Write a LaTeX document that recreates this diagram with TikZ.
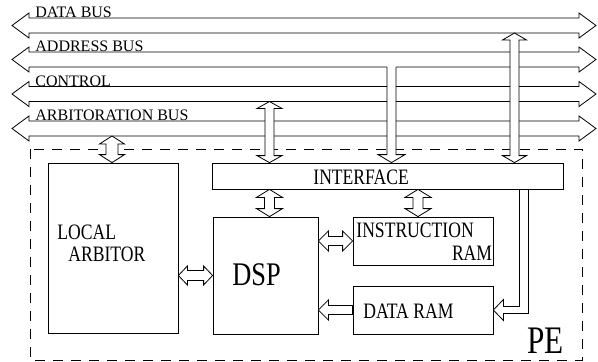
\documentclass[tikz,border=0pt]{standalone}
\usepackage{fontspec}
\setmainfont{Liberation Serif}
\newfontfamily\narrowfont{Liberation Serif}[FakeStretch=0.8]
\usetikzlibrary{calc}

% hollow block arrows: #1,#2 tips, #3 shaft half width, #4 head half width, #5 head length
\newcommand{\vdarr}[5]{\draw[hollow] let \p1=(#1), \p2=(#2) in
  (\x1,\y1) -- (\x1+#4,\y1-#5) -- (\x1+#3,\y1-#5) -- (\x1+#3,\y2+#5) -- (\x1+#4,\y2+#5)
  -- (\x1,\y2) -- (\x1-#4,\y2+#5) -- (\x1-#3,\y2+#5) -- (\x1-#3,\y1-#5) -- (\x1-#4,\y1-#5) -- cycle;}
\newcommand{\hdarr}[5]{\draw[hollow] let \p1=(#1), \p2=(#2) in
  (\x1,\y1) -- (\x1+#5,\y1+#4) -- (\x1+#5,\y1+#3) -- (\x2-#5,\y1+#3) -- (\x2-#5,\y1+#4)
  -- (\x2,\y1) -- (\x2-#5,\y1-#4) -- (\x2-#5,\y1-#3) -- (\x1+#5,\y1-#3) -- (\x1+#5,\y1-#4) -- cycle;}
\newcommand{\hsarr}[5]{\draw[hollow] let \p1=(#1), \p2=(#2) in
  (\x2,\y2) -- (\x2+#5,\y2+#4) -- (\x2+#5,\y2+#3) -- (\x1,\y2+#3)
  -- (\x1,\y2-#3) -- (\x2+#5,\y2-#3) -- (\x2+#5,\y2-#4) -- cycle;}

\begin{document}
\begin{tikzpicture}[x=1pt, y=-1pt, line width=0.8pt,
  blk/.style={draw, inner sep=0pt},
  hollow/.style={draw, fill=white},
  txt/.style={inner sep=0pt, anchor=base west, font=\narrowfont\fontsize{22}{22}\selectfont},
  buslbl/.style={inner sep=0pt, anchor=base west, font=\fontsize{16}{18}\selectfont},
  pe/.style={draw, dash pattern=on 10pt off 8pt}]
  \useasboundingbox (0,0) rectangle (598,362);

  % the four buses
  \coordinate (dbL) at (12,25.5);  \coordinate (dbR) at (596,25.5);
  \coordinate (abL) at (12,59.5);  \coordinate (abR) at (596,59.5);
  \coordinate (cbL) at (12,94);    \coordinate (cbR) at (596,94);
  \coordinate (rbL) at (12,128.5); \coordinate (rbR) at (596,128.5);
  \hdarr{dbL}{dbR}{7.5pt}{12.5pt}{17pt}
  \hdarr{abL}{abR}{7.5pt}{12.5pt}{17pt}
  \hdarr{cbL}{cbR}{7.5pt}{12.5pt}{17pt}
  \hdarr{rbL}{rbR}{7.5pt}{12.5pt}{17pt}
  \node[buslbl] (dblbl) at (35,17.5) {DATA BUS};
  \node[buslbl] (ablbl) at (35,51.5) {ADDRESS BUS};
  \node[buslbl] (cblbl) at (35,86) {CONTROL};
  \node[buslbl] (rblbl) at (35,120.5) {ARBITORATION BUS};

  % PE
  \draw[pe] (30,149) rectangle (582,360);
  \node[inner sep=0pt, anchor=base west, font=\narrowfont\fontsize{39}{39}\selectfont] (pe) at (527,353) {PE};

  \node[blk, minimum width=130pt, minimum height=170pt] (arb) at (113,248) {};
  \node[blk, minimum width=351pt, minimum height=26pt] (itf) at (387.5,176) {};
  \node[blk, minimum width=105pt, minimum height=117pt] (dsp) at (265.5,275.5) {};
  \node[blk, minimum width=140pt, minimum height=48pt] (ins) at (423,241) {};
  \node[blk, minimum width=140pt, minimum height=48pt] (dram) at (423,310) {};

  \node[txt, anchor=north west, align=left] (arbtxt) at (57,225) {LOCAL\\\hspace*{11pt}ARBITOR};
  \node[txt] (itftxt) at (313,184) {INTERFACE};
  \node[txt, font=\narrowfont\fontsize{33}{33}\selectfont] (dsptxt) at (232,285) {DSP};
  \node[txt] (instxt) at (356,237) {INSTRUCTION};
  \node[txt, anchor=base east] (insram) at (492.5,260) {RAM};
  \node[txt] (dramtxt) at (363,318) {DATA RAM};

  % taps from the buses
  \coordinate (btap) at (112,136);
  \coordinate (ctap) at (269.5,101.5);
  \coordinate (atap) at (391.5,67);
  \coordinate (dtap) at (514.5,33);
  \vdarr{btap}{btap |- arb.north}{6pt}{12.5pt}{8pt}
  \vdarr{ctap}{ctap |- itf.north}{4.5pt}{12.5pt}{7pt}
  \vdarr{dtap}{dtap |- itf.north}{4.5pt}{12pt}{7pt}
  \fill[white] ($(atap)+(-4.5,-1)$) rectangle ($(atap |- itf.north)+(4.5,-8)$);
  \draw let \p1=(atap), \p2=(atap |- itf.north) in
    (\x1-4.5pt,\y1) -- (\x1-4.5pt,\y2+8pt) -- (\x1-13.5pt,\y2+8pt) -- (\x2,\y2)
    -- (\x1+13.5pt,\y2+8pt) -- (\x1+4.5pt,\y2+8pt) -- (\x1+4.5pt,\y1);

  % inside the PE
  \coordinate (insin) at ($(itf.south -| ins.north)+(-5,0)$);
  \coordinate (ramin) at ($(itf.south east)+(-39.5,0)$);
  \vdarr{ctap |- itf.south}{ctap |- dsp.north}{5pt}{13pt}{8pt}
  \vdarr{insin}{insin |- ins.north}{5pt}{13pt}{8pt}
  \hdarr{arb.east |- dsp.west}{dsp.west}{5pt}{9.5pt}{9pt}
  \hdarr{dsp.east |- ins.west}{ins.west}{4.5pt}{10pt}{10pt}
  \hsarr{dram.west}{dsp.east |- dram.west}{4.5pt}{10pt}{10pt}
  \draw let \p1=(ramin), \p2=(dram.east) in
    (\x1-4.5pt,\y1) -- (\x1-4.5pt,\y2+3.5pt) -- (\x2+10pt,\y2+3.5pt) -- (\x2+10pt,\y2+10.5pt)
    -- (\x2,\y2) -- (\x2+10pt,\y2-10.5pt) -- (\x2+10pt,\y2-3.5pt) -- (\x1+4.5pt,\y2-3.5pt) -- (\x1+4.5pt,\y1);
\end{tikzpicture}
\end{document}
